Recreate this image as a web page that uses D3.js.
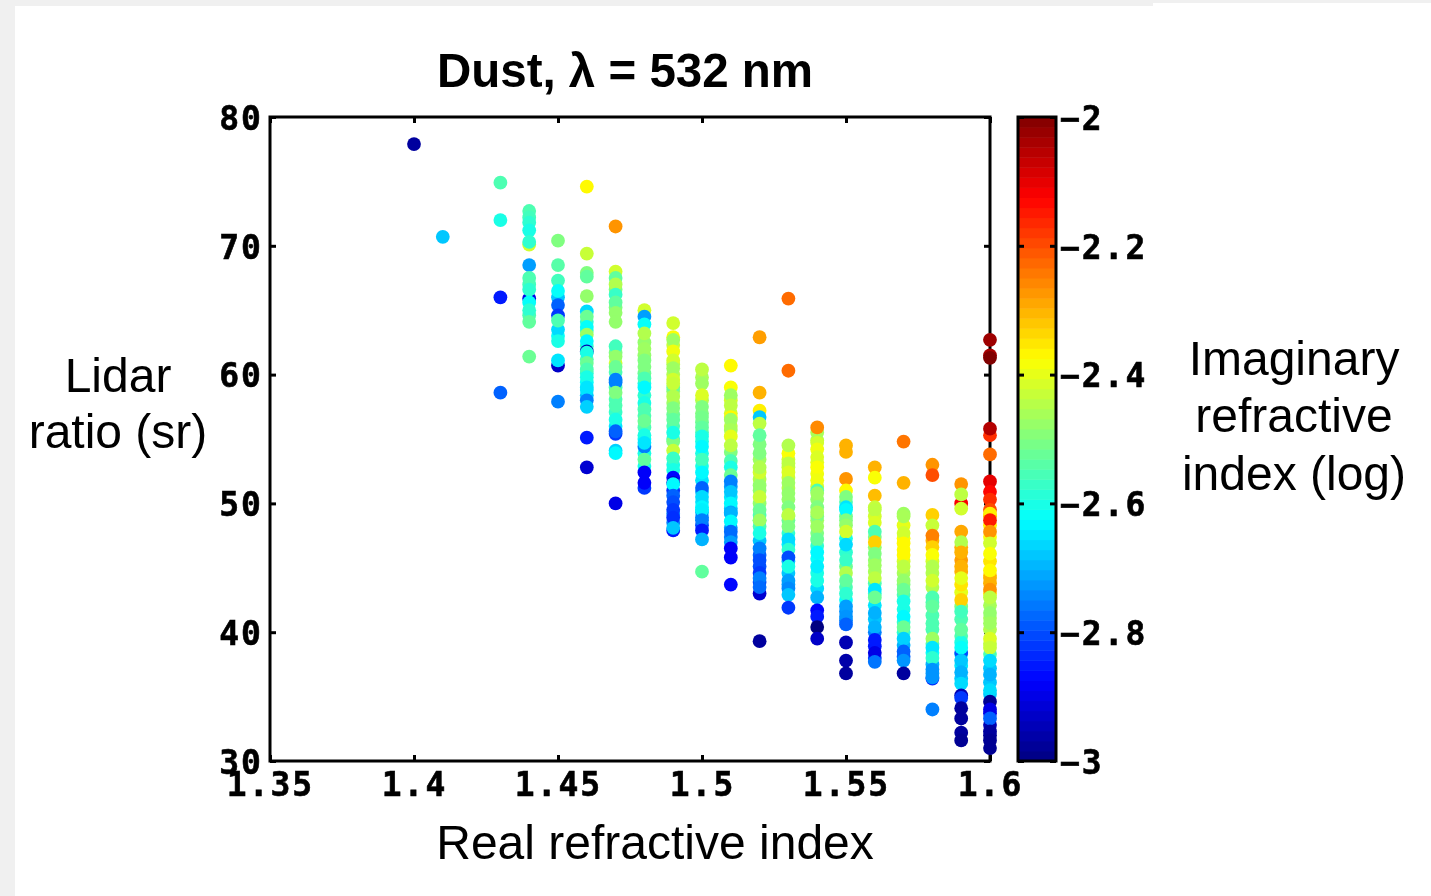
<!DOCTYPE html>
<html>
<head>
<meta charset="utf-8">
<script src="https://cdnjs.cloudflare.com/ajax/libs/d3/7.8.5/d3.min.js"></script>
<style>
  html, body { margin: 0; padding: 0; background: #f0f0f0; overflow: hidden; }
  svg { display: block; filter: blur(0.55px); }
</style>
</head>
<body>
<svg id="chart"></svg>
<script>
// [lidar ratio (sr), log10 imaginary index]
const col140 = [[77.9,-2.97]];
const col141 = [[70.7,-2.68]];
const col143 = [[74.9,-2.55],[72,-2.6],[66,-2.85],[58.6,-2.78]];
const col144 = [[72.7,-2.55],[72.2,-2.56],[71.8,-2.58],[71.2,-2.6],[70.1,-2.42],[70.3,-2.58],[68.5,-2.72],[67.5,-2.55],[65.9,-2.9],[66.6,-2.58],[65.6,-2.62],[65,-2.58],[64.1,-2.53],[61.4,-2.52]];
const col145 = [[70.4,-2.5],[68.5,-2.54],[67.3,-2.56],[66.5,-2.62],[65.4,-2.78],[64.6,-2.82],[63.5,-2.66],[64.2,-2.55],[62.6,-2.6],[60.7,-2.93],[61.1,-2.65],[57.9,-2.75]];
const col146 = [[74.6,-2.37],[69.4,-2.43],[67.9,-2.5],[67.6,-2.53],[66.1,-2.48],[64.9,-2.66],[64.5,-2.52],[63.7,-2.62],[63.1,-2.47],[62.6,-2.63],[61.8,-2.95],[61.7,-2.6],[60.9,-2.52],[60.4,-2.55],[59.8,-2.6],[59,-2.65],[58.8,-2.65],[58,-2.75],[57.5,-2.67],[55.1,-2.85],[52.8,-2.92]];
const col147 = [[71.5,-2.27],[68,-2.42],[67.5,-2.53],[67,-2.45],[66.2,-2.57],[65.6,-2.53],[64.8,-2.48],[64.1,-2.48],[62.2,-2.56],[60.9,-2.42],[61.4,-2.48],[60.6,-2.52],[59,-2.55],[59.6,-2.75],[59.4,-2.75],[58.6,-2.5],[57.6,-2.55],[56.5,-2.6],[55.4,-2.82],[55.6,-2.78],[54.1,-2.67],[53.9,-2.63],[50,-2.9]];
const col148 = [[65,-2.42],[64.5,-2.72],[63.9,-2.62],[63.2,-2.45],[62,-2.47],[61.1,-2.5],[60.6,-2.5],[59.7,-2.55],[59,-2.63],[57.8,-2.6],[57.3,-2.55],[56.4,-2.52],[55.3,-2.6],[54.4,-2.75],[54.7,-2.65],[53.4,-2.53],[52.4,-2.88],[51.2,-2.82],[51.6,-2.88]];
const col149 = [[64,-2.42],[62.9,-2.38],[62.7,-2.47],[61.8,-2.39],[61.1,-2.42],[60.5,-2.47],[59.6,-2.42],[59,-2.52],[59.3,-2.43],[58.3,-2.45],[57.4,-2.5],[56.5,-2.53],[55.5,-2.6],[54.1,-2.43],[53.5,-2.57],[52.6,-2.6],[52,-2.87],[51.6,-2.93],[51.5,-2.63],[50.6,-2.78],[50.1,-2.8],[49.5,-2.82],[48.9,-2.83],[47.9,-2.85],[48.1,-2.68]];
const col150 = [[60.4,-2.44],[59.3,-2.47],[58.4,-2.41],[57.5,-2.5],[56.7,-2.51],[55.9,-2.53],[55.2,-2.6],[54.4,-2.63],[53.4,-2.56],[52.4,-2.63],[51.2,-2.78],[50.5,-2.66],[49.7,-2.63],[48.9,-2.75],[49.5,-2.64],[48.7,-2.75],[47.9,-2.85],[47.2,-2.7],[44.7,-2.53]];
const col151 = [[60.7,-2.37],[59,-2.38],[58.4,-2.47],[57.6,-2.44],[56.7,-2.37],[56.5,-2.47],[55.7,-2.46],[55.2,-2.4],[54.5,-2.44],[52.8,-2.6],[52.2,-2.52],[51.7,-2.75],[50.9,-2.68],[50,-2.63],[49.3,-2.71],[49.2,-2.7],[48.6,-2.63],[47.8,-2.77],[47,-2.72],[46.5,-2.88],[45.8,-2.88],[43.7,-2.87]];
const col152 = [[62.9,-2.28],[58.6,-2.3],[57.2,-2.36],[56.7,-2.68],[56.2,-2.44],[55.3,-2.53],[53.9,-2.5],[52.4,-2.42],[52.8,-2.45],[50.5,-2.43],[49.5,-2.52],[48.7,-2.57],[48.7,-2.47],[47.7,-2.6],[46.5,-2.75],[45.6,-2.8],[44.6,-2.82],[43,-2.92],[44.2,-2.75],[43.5,-2.77],[39.3,-2.97]];
const col153 = [[65.9,-2.23],[60.3,-2.23],[53.9,-2.38],[54.5,-2.45],[53.1,-2.44],[52.4,-2.41],[51.6,-2.47],[50.8,-2.48],[49.7,-2.5],[49,-2.5],[49.1,-2.44],[48.2,-2.5],[47.2,-2.66],[46.4,-2.58],[45.8,-2.8],[45.1,-2.6],[44,-2.72],[43.4,-2.74],[42.9,-2.68],[41.9,-2.82]];
const col154 = [[55.5,-2.46],[55.9,-2.26],[54.7,-2.42],[54.2,-2.39],[53.6,-2.41],[52.8,-2.38],[51.8,-2.39],[51,-2.55],[50.8,-2.47],[49.7,-2.5],[49,-2.5],[49.3,-2.46],[48.2,-2.47],[47.2,-2.52],[46.2,-2.63],[45.1,-2.64],[44,-2.6],[42.7,-2.7],[41.7,-2.87],[41.2,-2.85],[40.4,-3],[39.5,-2.93]];
const col155 = [[54.5,-2.3],[54,-2.3],[51.9,-2.27],[51,-2.37],[50.5,-2.5],[49.7,-2.65],[49,-2.52],[49.5,-2.63],[48.7,-2.5],[48.3,-2.48],[47.8,-2.42],[46.8,-2.66],[45.6,-2.57],[44.6,-2.45],[44,-2.53],[43,-2.58],[42,-2.72],[41.2,-2.73],[40.6,-2.78],[39.2,-2.95],[37.8,-2.96],[36.8,-2.97]];
const col156 = [[52.8,-2.3],[52,-2.38],[50.6,-2.31],[49.7,-2.43],[49,-2.42],[49.5,-2.44],[48.5,-2.41],[47.8,-2.55],[47,-2.33],[46.1,-2.5],[45.2,-2.47],[44.2,-2.44],[43.3,-2.65],[42.7,-2.52],[41.5,-2.7],[40.4,-2.7],[39.4,-2.85],[38.4,-2.9],[37.7,-2.76]];
const col157 = [[54.8,-2.24],[51.6,-2.3],[49.2,-2.47],[49,-2.46],[47.7,-2.42],[46.9,-2.37],[46,-2.37],[45.1,-2.44],[44,-2.48],[43.3,-2.52],[42.4,-2.6],[41.2,-2.63],[40.4,-2.52],[39.5,-2.67],[38.5,-2.78],[37.8,-2.73],[36.8,-2.97]];
const col158 = [[53,-2.27],[52.2,-2.2],[49.1,-2.33],[48.3,-2.43],[47.5,-2.25],[46.6,-2.33],[46,-2.38],[45.1,-2.45],[44,-2.42],[42.7,-2.55],[42,-2.53],[40.7,-2.55],[39.5,-2.47],[38.8,-2.65],[38,-2.58],[37.1,-2.73],[36.4,-2.83],[36.5,-2.73],[34,-2.75]];
const col159 = [[51.5,-2.27],[50,-2.12],[50.7,-2.44],[49.6,-2.42],[47.8,-2.29],[47,-2.45],[46.2,-2.3],[45.1,-2.3],[43.7,-2.35],[44.2,-2.4],[42.5,-2.33],[41.6,-2.56],[40.2,-2.53],[38.4,-2.8],[38.8,-2.62],[37.8,-2.68],[36.9,-2.7],[36,-2.66],[35.1,-2.95],[34.9,-2.82],[34.1,-2.97],[33.3,-2.97],[32.2,-2.97],[31.6,-2.98]];
const col160 = [[62.7,-2.03],[61.5,-2.04],[61.3,-2],[55.3,-2.17],[55.8,-2.05],[53.8,-2.23],[51.7,-2.1],[50.9,-2.13],[50.3,-2.17],[49.5,-2.2],[49.2,-2.36],[48.7,-2.15],[47.8,-2.27],[46.9,-2.42],[46.1,-2.38],[44.2,-2.3],[44.8,-2.37],[43.3,-2.27],[42.7,-2.44],[41.5,-2.48],[40.7,-2.47],[39.5,-2.41],[38.8,-2.43],[37.8,-2.66],[36.7,-2.7],[35.5,-2.66],[34.6,-2.98],[34,-2.9],[33.3,-2.78],[32.3,-2.97],[31.6,-2.98],[31,-2.98]];

// points that lie mostly hidden inside the solid runs, drawn first
const under144 = [[67,-2.56],[64.6,-2.55]];
const under145 = [[66,-2.68],[63,-2.62]];
const under146 = [[64.1,-2.58],[63.4,-2.55],[62.2,-2.58],[61.2,-2.55],[60.1,-2.58],[59.4,-2.62],[58.4,-2.68]];
const under147 = [[66.6,-2.5],[65.2,-2.5],[61.7,-2.5],[60.2,-2.55],[58.1,-2.55],[57.1,-2.57],[56,-2.65]];
const under148 = [[62.5,-2.48],[61.5,-2.48],[60.1,-2.52],[59.3,-2.6],[58.4,-2.58],[56.8,-2.55],[55.9,-2.55],[55,-2.62],[53.9,-2.6],[52.9,-2.6]];
const under149 = [[62.3,-2.43],[60.8,-2.45],[60,-2.45],[58.7,-2.48],[57.8,-2.47],[56.9,-2.52],[56,-2.55],[55,-2.58],[54.8,-2.5],[53,-2.6],[51,-2.82],[49.2,-2.75],[48.5,-2.75]];
const under150 = [[59.8,-2.46],[58,-2.45],[57,-2.5],[56.3,-2.52],[55.5,-2.56],[54.8,-2.6],[53.9,-2.6],[52.9,-2.6],[51.8,-2.65],[50.9,-2.7],[50.1,-2.65],[49.3,-2.68],[48.3,-2.8]];
const under151 = [[58,-2.42],[57,-2.42],[56,-2.44],[54,-2.5],[53.3,-2.55],[51.3,-2.72],[50.5,-2.65],[49.6,-2.68],[48.1,-2.72],[47.4,-2.75]];
const under152 = [[54.6,-2.5],[53.4,-2.47],[51.9,-2.45],[51.4,-2.48],[51,-2.48],[50,-2.48],[49.1,-2.55],[48.2,-2.55],[47.1,-2.68],[46,-2.78],[45.1,-2.8],[43.9,-2.8]];
const under153 = [[53.4,-2.42],[52.8,-2.43],[52,-2.43],[51.2,-2.45],[50.3,-2.48],[48.7,-2.52],[47.7,-2.58],[46.8,-2.64],[45.5,-2.68],[44.6,-2.68],[43.7,-2.72]];
const under154 = [[54.9,-2.44],[53.2,-2.4],[52.3,-2.39],[51.3,-2.42],[50.3,-2.48],[48.7,-2.47],[47.7,-2.5],[46.7,-2.58],[45.7,-2.62],[44.6,-2.6],[43.4,-2.66]];
const under155 = [[50.1,-2.55],[47.3,-2.6],[46.2,-2.58],[45.1,-2.52],[43.5,-2.55],[42.5,-2.62],[41.6,-2.73],[40.9,-2.75]];
const under156 = [[47.4,-2.5],[46.6,-2.48],[45.6,-2.48],[44.7,-2.46],[43.8,-2.55],[43,-2.58],[42.1,-2.65],[41,-2.68],[40,-2.75],[38.9,-2.85],[38,-2.82]];
const under157 = [[48.3,-2.4],[47.3,-2.38],[46.4,-2.37],[45.5,-2.42],[44.6,-2.46],[43.7,-2.5],[42.9,-2.55],[41.8,-2.6],[40.8,-2.58],[40,-2.58],[39,-2.7],[38.1,-2.78]];
const under158 = [[47.1,-2.3],[45.5,-2.42],[44.6,-2.45],[43.5,-2.45],[42.3,-2.55],[41.3,-2.55],[40.2,-2.55],[39.1,-2.55],[38.4,-2.62],[37.5,-2.7],[36.8,-2.72]];
const under159 = [[46.6,-2.3],[45.6,-2.28],[44.7,-2.3],[43.1,-2.4],[42,-2.5],[41,-2.55],[39.7,-2.55],[39.2,-2.6],[38.3,-2.65],[37.4,-2.65],[36.4,-2.68]];
const under160 = [[49,-2.3],[48.3,-2.36],[47.4,-2.38],[45.5,-2.35],[44.4,-2.33],[43.8,-2.3],[43,-2.35],[42.1,-2.46],[41.1,-2.46],[40.2,-2.45],[39.1,-2.44],[38.3,-2.55],[37.2,-2.68],[36.1,-2.68],[35.2,-2.68],[33.7,-2.9],[32.8,-2.95],[32,-2.98]];

const realIndex = [1.40,1.41,1.43,1.44,1.45,1.46,1.47,1.48,1.49,1.50,1.51,1.52,1.53,1.54,1.55,1.56,1.57,1.58,1.59,1.60];
const columns = [col140,col141,col143,col144,col145,col146,col147,col148,col149,col150,col151,col152,col153,col154,col155,col156,col157,col158,col159,col160];
const underColumns = [[],[],[],under144,under145,under146,under147,under148,under149,under150,under151,under152,under153,under154,under155,under156,under157,under158,under159,under160];

const xTicks = [1.35,1.4,1.45,1.5,1.55,1.6];
const xTickLabels = ['1.35','1.4','1.45','1.5','1.55','1.6'];
const yTicks = [30,40,50,60,70,80];
const cTicks = [-3,-2.8,-2.6,-2.4,-2.2,-2];
const cTickLabels = ['\u22123','\u22122.8','\u22122.6','\u22122.4','\u22122.2','\u22122'];

const width = 1431, height = 896;
const margin = { top: 117, left: 270, right: 441, bottom: 135 };
const innerWidth = width - margin.left - margin.right;
const innerHeight = height - margin.top - margin.bottom;

const svg = d3.select('#chart').attr('width', width).attr('height', height);

// white slide area on the grey page
svg.append('rect').attr('x', 15).attr('y', 6).attr('width', width - 15).attr('height', height - 6).attr('fill', '#fff');
svg.append('rect').attr('x', 1153).attr('y', 3).attr('width', width - 1153).attr('height', 4).attr('fill', '#fff');

const xScale = d3.scaleLinear().domain([1.35, 1.6]).range([0, innerWidth]);
const yScale = d3.scaleLinear().domain([30, 80]).range([innerHeight, 0]);

// matlab jet
const jet = d3.scaleLinear()
  .domain([-3, -2.875, -2.625, -2.375, -2.125, -2])
  .range(['#000080', '#0000ff', '#00ffff', '#ffff00', '#ff0000', '#800000'])
  .clamp(true);

const g = svg.append('g').attr('transform', `translate(${margin.left},${margin.top})`);

const tickFont = "'DejaVu Sans Mono', monospace";

function styleAxis(sel) {
  sel.selectAll('.domain').remove();
  sel.selectAll('line').attr('stroke', '#000').attr('stroke-width', 3);
  sel.selectAll('text')
    .attr('font-family', tickFont)
    .attr('font-weight', 'bold')
    .attr('font-size', 33)
    .attr('letter-spacing', 2)
    .attr('stroke', '#000')
    .attr('stroke-width', 0.6)
    .attr('fill', '#000');
}

// bottom and left axes with inside ticks
g.append('g').attr('transform', `translate(0,${innerHeight})`)
  .call(d3.axisBottom(xScale).tickValues(xTicks).tickSize(-6).tickPadding(12).tickFormat((d, i) => xTickLabels[i]))
  .call(styleAxis);
g.append('g')
  .call(d3.axisLeft(yScale).tickValues(yTicks).tickSize(-6).tickPadding(7).tickFormat(d3.format('d')))
  .call(styleAxis)
  .selectAll('text').attr('dy', '0.37em');
// top and right ticks, no labels
g.append('g')
  .call(d3.axisTop(xScale).tickValues(xTicks).tickSize(-6).tickFormat(''))
  .call(styleAxis);
g.append('g').attr('transform', `translate(${innerWidth},0)`)
  .call(d3.axisRight(yScale).tickValues(yTicks).tickSize(-6).tickFormat(''))
  .call(styleAxis);

g.append('rect')
  .attr('width', innerWidth).attr('height', innerHeight)
  .attr('fill', 'none').attr('stroke', '#000').attr('stroke-width', 3);

// scatter
const points = underColumns.concat(columns).flatMap((col, i) =>
  col.map(p => ({ real: realIndex[i % realIndex.length], lidar: p[0], k: p[1] })));
g.selectAll('.dot')
  .data(points)
  .enter()
  .append('circle')
  .attr('class', 'dot')
  .attr('cx', d => xScale(d.real))
  .attr('cy', d => yScale(d.lidar))
  .attr('r', 6.9)
  .attr('fill', d => jet(d.k));

// colorbar
const barLeft = 1018, barWidth = 38;
const cScale = d3.scaleLinear().domain([-3, -2]).range([innerHeight, 0]);
const bar = svg.append('g').attr('transform', `translate(${barLeft},${margin.top})`);
const steps = d3.range(64);
bar.selectAll('.step')
  .data(steps)
  .enter()
  .append('rect')
  .attr('class', 'step')
  .attr('x', 0)
  .attr('width', barWidth)
  .attr('y', d => cScale(-3 + (d + 1) / 64))
  .attr('height', innerHeight / 64 + 0.5)
  .attr('fill', d => jet(-3 + (d + 0.5) / 64));

bar.append('g')
  .call(d3.axisLeft(cScale).tickValues(cTicks).tickSize(-6).tickFormat(''))
  .call(styleAxis);
bar.append('g').attr('transform', `translate(${barWidth},0)`)
  .call(d3.axisRight(cScale).tickValues(cTicks).tickSize(-6).tickPadding(4).tickFormat((d, i) => cTickLabels[i]))
  .call(styleAxis)
  .selectAll('text').attr('dy', '0.37em');
bar.append('rect')
  .attr('width', barWidth).attr('height', innerHeight)
  .attr('fill', 'none').attr('stroke', '#000').attr('stroke-width', 3);

// titles and labels
const sans = "'Liberation Sans', Arial, sans-serif";
function label(x, y, text, size, weight) {
  svg.append('text')
    .attr('x', x).attr('y', y)
    .attr('text-anchor', 'middle')
    .attr('font-family', sans)
    .attr('font-size', size)
    .attr('font-weight', weight || 'normal')
    .attr('fill', '#000')
    .text(text);
}
label(625, 87, 'Dust, \u03bb = 532 nm', 47.5, 'bold');
label(655, 859, 'Real refractive index', 48);
label(118, 392, 'Lidar', 48);
label(118, 448, 'ratio (sr)', 48);
label(1294, 375, 'Imaginary', 48);
label(1294, 432, 'refractive', 48);
label(1294, 490, 'index (log)', 48);
</script>
</body>
</html>
